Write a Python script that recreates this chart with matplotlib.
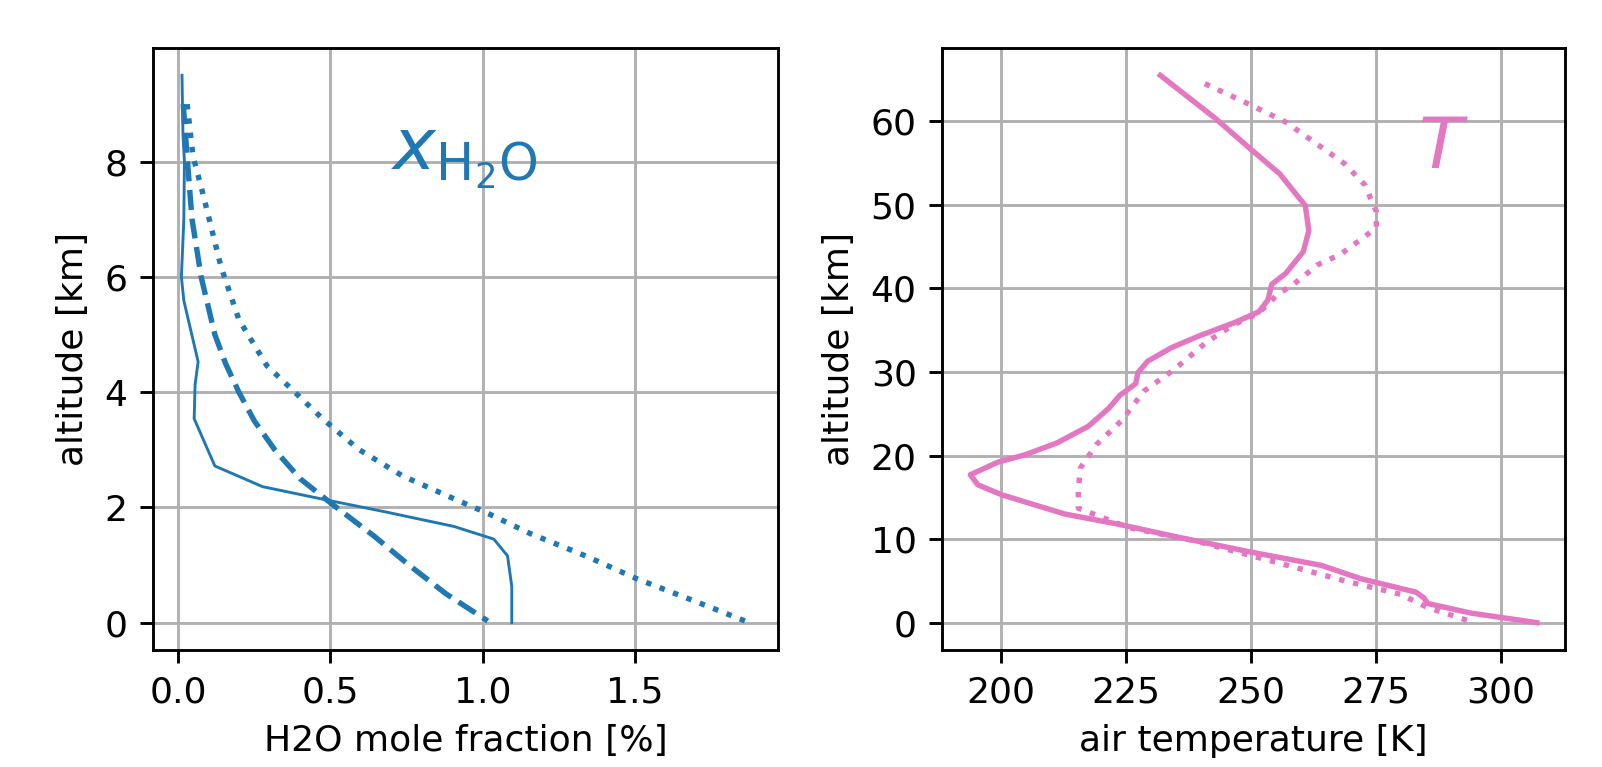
import matplotlib
matplotlib.use("Agg")
import matplotlib.pyplot as plt

# ── H2O mole fraction profiles (altitude km, fraction %) ─────────────────────
h2o_meas_alt = [9.5, 8.5, 8.0, 7.0, 6.0, 5.59, 4.53, 4.13, 3.54, 2.72, 2.36,
                2.12, 1.92, 1.67, 1.45, 1.16, 0.63, 0.0]
h2o_meas = [0.012, 0.015, 0.02, 0.018, 0.01, 0.018, 0.065, 0.055, 0.052, 0.12,
            0.277, 0.496, 0.683, 0.906, 1.037, 1.082, 1.096, 1.096]

h2o_dash_alt = [9.0, 8.0, 7.0, 6.0, 5.0, 4.5, 4.0, 3.5, 3.0, 2.5, 2.08, 1.5,
                1.0, 0.5, 0.03]
h2o_dash = [0.016, 0.03, 0.045, 0.075, 0.12, 0.155, 0.199, 0.25, 0.317, 0.40,
            0.5, 0.644, 0.758, 0.88, 1.017]

h2o_dot_alt = [9.0, 8.1, 7.44, 6.18, 5.26, 4.46, 4.07, 3.54, 3.01, 2.55, 2.18,
               1.88, 1.55, 1.16, 0.76, 0.36, 0.0]
h2o_dot = [0.029, 0.048, 0.081, 0.14, 0.199, 0.291, 0.369, 0.474, 0.592, 0.736,
           0.893, 1.024, 1.155, 1.338, 1.508, 1.704, 1.877]

# ── Temperature profiles (altitude km, T K) ───────────────────────────────────
t_meas_alt = [65.5, 60.4, 56.7, 53.7, 49.9, 46.9, 44.4, 41.8, 40.5, 38.6, 37.2,
              35.9, 34.3, 32.9, 31.3, 29.9, 28.6, 27.2, 25.6, 23.5, 21.5, 20.1,
              19.2, 17.7, 16.5, 15.3, 13.0, 11.75, 10.3, 8.46, 6.86, 5.26, 3.66,
              2.97, 2.29, 1.14, 0.0]
t_meas = [231.9, 242.8, 249.9, 255.8, 260.9, 261.6, 260.5, 257.0, 254.2, 253.4,
          251.6, 246.7, 239.6, 234.1, 229.4, 227.4, 227.0, 223.8, 221.5, 217.5,
          211.2, 204.9, 199.4, 193.9, 195.4, 200.2, 212.8, 223.8, 234.9, 249.9,
          264.1, 272.0, 283.0, 284.6, 285.4, 294.1, 307.2]

t_std_alt = [64.5, 62.2, 59.9, 56.9, 54.9, 52.4, 49.2, 47.3, 46.2, 44.1, 42.8,
             40.5, 39.3, 37.0, 35.7, 33.6, 30.4, 27.7, 24.2, 21.3, 18.5, 15.8,
             13.7, 11.4, 9.8, 7.3, 5.0, 3.4, 1.8, 0.2]
t_std = [240.8, 249.1, 257.0, 264.1, 268.8, 272.8, 275.1, 275.1, 272.8, 268.0,
         263.3, 258.6, 255.4, 251.5, 246.7, 241.2, 234.9, 228.6, 224.2, 219.1,
         215.9, 215.5, 215.5, 225.4, 238.8, 254.6, 268.8, 279.9, 285.4, 293.7]

plt.rcParams["font.size"] = 10

fig = plt.figure(figsize=(1602 / 260, 767 / 260), dpi=260)
ax1 = fig.add_axes([0.0955, 0.1525, 0.390, 0.785])
ax2 = fig.add_axes([0.588, 0.1525, 0.389, 0.785])

# ── Panel 1: H2O ──────────────────────────────────────────────────────────────
ax1.plot(h2o_meas, h2o_meas_alt, "-", color="tab:blue", linewidth=0.8)
ax1.plot(h2o_dash, h2o_dash_alt, "--", color="tab:blue", linewidth=1.5)
ax1.plot(h2o_dot, h2o_dot_alt, ":", color="tab:blue", linewidth=1.5)
ax1.text(0.70, 7.87, r"$x_{\mathrm{H_2O}}$", color="tab:blue", fontsize=20,
         ha="left", va="baseline")
ax1.set_xlabel("H2O mole fraction [%]")
ax1.set_ylabel("altitude [km]")
ax1.grid(True)

# ── Panel 2: Temperature ──────────────────────────────────────────────────────
ax2.plot(t_meas, t_meas_alt, "-", color="tab:pink", linewidth=1.5)
ax2.plot(t_std, t_std_alt, ":", color="tab:pink", linewidth=1.5)
ax2.text(283.5, 54.4, r"$T$", color="tab:pink", fontsize=20,
         ha="left", va="baseline")
ax2.set_xlabel("air temperature [K]")
ax2.set_ylabel("altitude [km]")
ax2.grid(True)

fig.savefig("out.png", dpi=260)
